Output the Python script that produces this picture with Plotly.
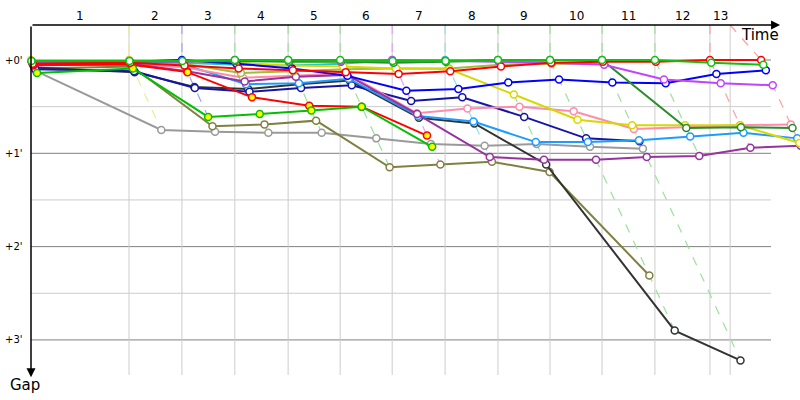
import plotly.graph_objects as go

# ---------------- data ----------------
lap_labels = [str(i) for i in range(1, 14)]
# leader time (minutes) at the end of each lap: vertical grid lines
grid_times = [2.28, 3.51, 4.74, 5.98, 7.19, 8.40, 9.63, 10.86, 12.07, 13.28, 14.51, 15.79, 16.26]
# leader time at each timing point (start + 13 laps)
checkpoint_times = [0.0, 2.28, 3.51, 4.74, 5.98, 7.19, 8.40, 9.63, 10.86, 12.07, 13.28, 14.51, 15.79, 16.98]
# colour of the leader at each lap end (isochrone lines)
leader_colors = ["#ecec90", "#a0a0ff", "#9ee09e", "#9ee09e", "#9ee09e", "#e6a0ff", "#90e0e0",
                 "#9ee09e", "#9ee09e", "#9ee09e", "#9ee09e", "#ffa0a0", "#ffa0a0"]

gap_major = [0, 1, 2, 3]
gap_minor = [0.5, 1.5, 2.5]
gap_labels = ["+0'", "+1'", "+2'", "+3'"]

N = None
# gaps in minutes at start, lap 1 ... lap 13
grey        = [0.12, 0.75, 0.77, 0.78, 0.78, 0.84, 0.90, 0.92, 0.90, 0.93, 0.95, N, N, N]
olive       = [0.09, 0.07, 0.71, 0.69, 0.65, 1.15, 1.12, 1.09, 1.20, 2.31, N, N, N, N]
darkgrey    = [0.08, 0.13, 0.29, 0.31, 0.26, 0.22, 0.62, 0.68, 1.12, 2.90, 3.22, N, N, N]
navy        = [0.10, 0.12, 0.30, 0.34, 0.30, 0.27, 0.44, 0.40, 0.61, 0.84, 0.87, N, N, N]
lightblue   = [0.04, 0.03, 0.05, 0.26, 0.25, 0.20, 0.60, 0.66, 0.88, 0.88, 0.86, 0.82, 0.78, 0.84]
pink        = [0.05, 0.04, 0.08, 0.19, 0.17, 0.14, 0.57, 0.52, 0.50, 0.55, 0.74, 0.72, 0.70, 0.69]
darkpurple  = [0.06, 0.04, 0.12, 0.23, 0.18, 0.16, 0.58, 1.04, 1.07, 1.07, 1.04, 1.03, 0.94, 0.92]
yellowgreen = [0.03, 0.02, 0.04, 0.14, 0.12, 0.10, 0.09, 0.09, 0.05, 0.04, 0.04, N, N, N]
cyan        = [0.01, 0.01, 0.03, 0.05, 0.06, 0.04, 0.00, 0.00, 0.01, 0.02, N, N, N, N]
yellow      = [0.00, 0.00, 0.01, 0.03, 0.06, 0.07, 0.09, 0.10, 0.37, 0.64, 0.70, 0.70, 0.70, 0.89]
blue        = [0.02, 0.02, 0.00, 0.04, 0.09, 0.17, 0.33, 0.31, 0.24, 0.21, 0.24, 0.25, 0.15, 0.11]
darkgreen   = [0.03, 0.02, 0.02, 0.01, 0.02, 0.02, 0.03, 0.02, 0.00, 0.00, 0.00, 0.73, 0.72, 0.73]
purple      = [0.02, 0.01, 0.02, 0.00, 0.00, 0.01, 0.00, 0.01, 0.02, 0.03, 0.05, 0.21, 0.25, 0.27]
red_a       = [0.05, 0.05, 0.13, 0.40, 0.49, 0.50, 0.81, N, N, N, N, N, N, N]
green_a     = [0.14, 0.09, 0.61, 0.58, 0.54, 0.50, 0.93, N, N, N, N, N, N, N]
red_b       = [0.04, 0.03, 0.06, 0.09, 0.11, 0.13, 0.15, 0.12, 0.07, 0.03, 0.02, 0.02, 0.00, 0.00]
green_b     = [0.01, 0.01, 0.01, 0.00, 0.00, 0.00, 0.01, 0.01, 0.00, 0.00, 0.00, 0.00, 0.03, 0.05]

riders = [
    (grey, "#9a9a9a", "white"),
    (olive, "#808040", "white"),
    (darkgrey, "#333333", "white"),
    (navy, "#1414a8", "white"),
    (lightblue, "#1e9bff", "white"),
    (pink, "#ff8caa", "white"),
    (darkpurple, "#98329e", "white"),
    (yellowgreen, "#9cbf3a", "white"),
    (cyan, "#22c8c8", "white"),
    (yellow, "#d8d800", "white"),
    (blue, "#0000ff", "white"),
    (darkgreen, "#2a8c2a", "white"),
    (purple, "#c044ff", "white"),
    (red_a, "#ff0000", "#ffff00"),
    (green_a, "#00c000", "#ffff00"),
    (red_b, "#ff0000", "white"),
    (green_b, "#10c010", "white"),
]

# ---------------- figure ----------------
X0, X1 = -0.721, 17.884     # time axis range (minutes)
Y0, Y1 = -0.643, 3.644      # gap axis range (minutes), drawn downward
TOP = -0.375                # position of the time axis
BOTTOM = 3.376              # bottom end of the vertical grid
RIGHT = 17.21               # right end of the horizontal grid

fig = go.Figure()
shapes = []
annotations = []

# horizontal grid
for g in gap_minor:
    shapes.append(dict(type="line", x0=0, x1=RIGHT, y0=g, y1=g, layer="below",
                       line=dict(color="#cccccc", width=1)))
for g in gap_major:
    shapes.append(dict(type="line", x0=0, x1=RIGHT, y0=g, y1=g, layer="below",
                       line=dict(color="#808080", width=1)))
# vertical grid
for t in grid_times:
    shapes.append(dict(type="line", x0=t, x1=t, y0=TOP, y1=BOTTOM, layer="below",
                       line=dict(color="#cccccc", width=1)))

# isochrone dashed lines, one per lap end
all_riders = [r[0] for r in riders]
for k in range(1, 14):
    gaps_k = [r[k] for r in all_riders if r[k] is not None]
    gmax = max(gaps_k)
    gt = grid_times[k - 1]
    ct = checkpoint_times[k]
    fig.add_trace(go.Scatter(x=[gt, ct, ct + gmax], y=[TOP, 0, gmax], mode="lines",
                             line=dict(color=leader_colors[k - 1], width=1.2, dash="dash"),
                             hoverinfo="skip"))

# riders
for gaps, color, fill in riders:
    xs = [checkpoint_times[i] + g for i, g in enumerate(gaps) if g is not None]
    ys = [g for g in gaps if g is not None]
    fig.add_trace(go.Scatter(
        x=xs, y=ys, mode="lines+markers",
        line=dict(color=color, width=2),
        marker=dict(size=7, color=fill, line=dict(color=color, width=1.5)),
    ))

# axes with arrows
annotations.append(dict(x=17.42, y=TOP, ax=0, ay=TOP, xref="x", yref="y", axref="x", ayref="y",
                        text="", showarrow=True, arrowhead=2, arrowsize=1.2, arrowwidth=1.5,
                        arrowcolor="black"))
annotations.append(dict(x=0, y=3.40, ax=0, ay=TOP, xref="x", yref="y", axref="x", ayref="y",
                        text="", showarrow=True, arrowhead=2, arrowsize=1.2, arrowwidth=1.5,
                        arrowcolor="black"))
annotations.append(dict(x=16.95, y=-0.268, text="Time", showarrow=False,
                        font=dict(family="DejaVu Sans", size=15, color="black")))
annotations.append(dict(x=-0.14, y=3.48, text="Gap", showarrow=False,
                        font=dict(family="DejaVu Sans", size=15, color="black")))

# lap labels centred between grid lines
bounds = [0.0] + grid_times
for i, lab in enumerate(lap_labels):
    annotations.append(dict(x=(bounds[i] + bounds[i + 1]) / 2, y=-0.47, text=lab, showarrow=False,
                            font=dict(family="DejaVu Sans", size=12, color="black")))

# gap tick labels
for g, lab in zip(gap_major, gap_labels):
    annotations.append(dict(x=-0.14, y=g, text=lab, showarrow=False, xanchor="right",
                            font=dict(family="DejaVu Sans", size=10, color="black")))

fig.update_layout(
    width=800, height=400,
    margin=dict(l=0, r=0, t=0, b=0),
    paper_bgcolor="white", plot_bgcolor="white",
    showlegend=False,
    xaxis=dict(range=[X0, X1], visible=False, fixedrange=True),
    yaxis=dict(range=[Y1, Y0], visible=False, fixedrange=True),
    shapes=shapes, annotations=annotations,
)

fig.write_html("out.html", config={"displayModeBar": False},
               post_script="document.body.style.margin='0px';document.body.style.overflow='hidden';")
